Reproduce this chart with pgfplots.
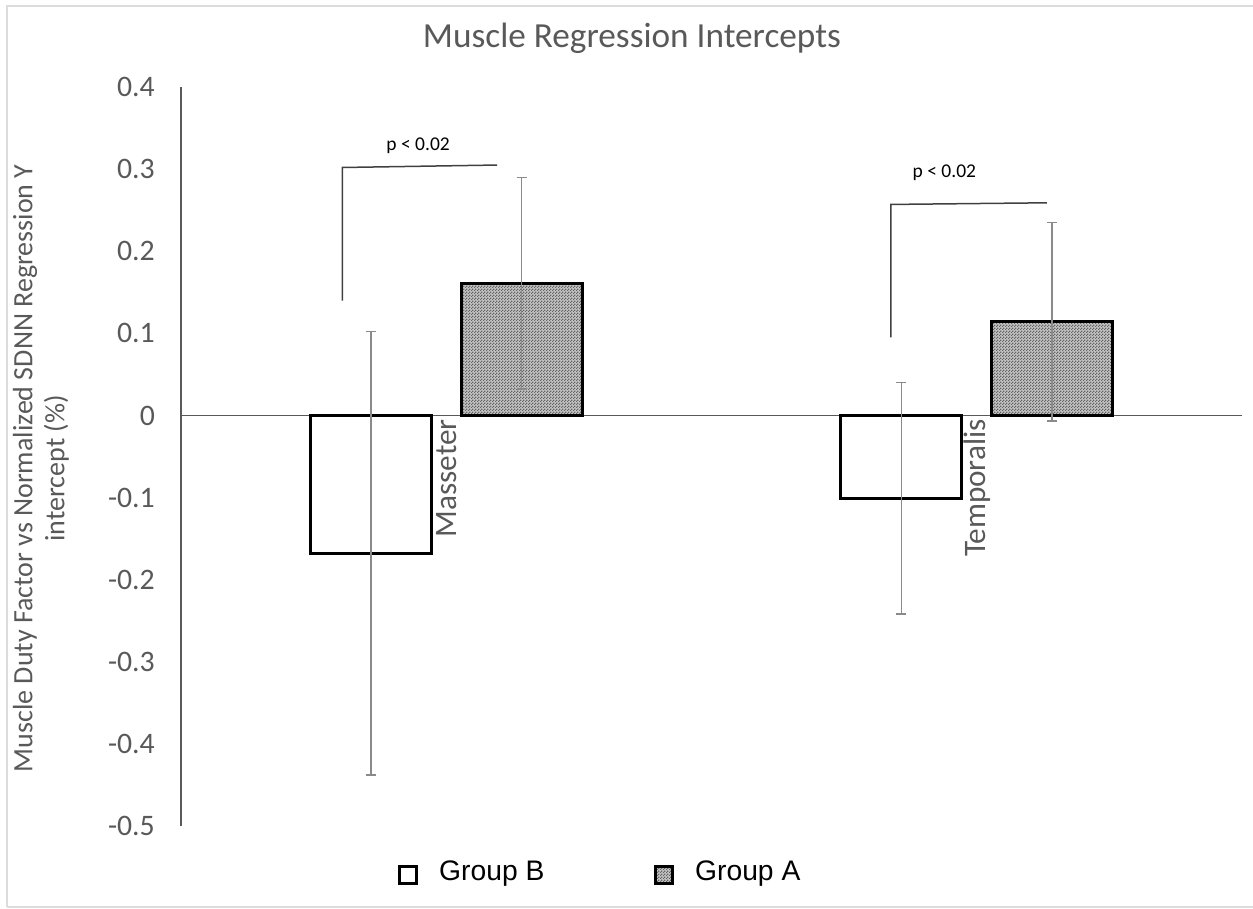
\documentclass[border=0pt]{standalone}
\usepackage{fontspec}
\setmainfont{Carlito}
\newfontfamily\arialfont{Liberation Sans}
\usepackage{pgfplots}
\pgfplotsset{compat=1.18}
\usetikzlibrary{patterns}

\definecolor{txtgray}{HTML}{595959}
\definecolor{errgray}{HTML}{8A8A8A}
\definecolor{barfill}{HTML}{C4C4C4}
\definecolor{dotcol}{HTML}{646464}
\definecolor{framegray}{HTML}{DCDCDC}

% fine checkerboard stipple for Group A bars
\pgfdeclarepatternformonly{finedots}{\pgfqpoint{0pt}{0pt}}{\pgfqpoint{1.2pt}{1.2pt}}{\pgfqpoint{1.2pt}{1.2pt}}{%
  \pgfpathrectangle{\pgfqpoint{0pt}{0pt}}{\pgfqpoint{0.6pt}{0.6pt}}%
  \pgfpathrectangle{\pgfqpoint{0.6pt}{0.6pt}}{\pgfqpoint{0.6pt}{0.6pt}}%
  \pgfusepath{fill}}

\begin{document}
\begin{tikzpicture}
\useasboundingbox (0,0) rectangle (501.2pt,-363.6pt);
% light outer frame
\draw[framegray, line width=0.7pt] (2.8pt,-362.8pt) -- (2.8pt,-2.4pt) -- (501.2pt,-2.4pt);
\draw[framegray, line width=0.7pt] (2.8pt,-362.8pt) -- (501.2pt,-362.8pt);
\begin{axis}[
  at={(72.4pt,-330.4pt)}, anchor=south west,
  scale only axis, width=424.4pt, height=295.6pt,
  clip=false,
  xmin=0.5, xmax=2.5,
  ymin=-0.5, ymax=0.4,
  ytick distance=0.1,
  axis x line=none, axis y line=left,
  y axis line style={-, draw=txtgray, line width=0.8pt},
  ytick style={draw=none},
  yticklabel style={text=txtgray, font=\fontsize{11.9}{14}\selectfont},
  yticklabel shift=4.8pt,
  /pgf/number format/.cd, fixed, precision=1, assume math mode=true, /pgfplots/.cd,
  ylabel={Muscle Duty Factor vs Normalized SDNN Regression Y\\intercept (\%)},
  ylabel style={at={(axis description cs:-0.132,0.484)}, anchor=center, align=center,
    text=txtgray, font=\fontsize{11.2}{12.8}\selectfont, rotate=0},
  ybar, bar width=0.228,
  legend columns=2,
  legend style={at={(axis description cs:0.2045,-0.0636)}, anchor=west, draw=none, fill=none,
    inner xsep=0pt, inner ysep=0pt, font=\arialfont\fontsize{11.3}{13}\selectfont,
    /tikz/every odd column/.append style={column sep=6.6pt},
    /tikz/every even column/.append style={column sep=42pt}},
  legend image code/.code={\draw[#1, draw=black, line width=0.9pt] (0pt,-4.2pt) rectangle (6.8pt,2.6pt);},
]
% zero line
\draw[txtgray, line width=0.7pt] (axis cs:0.5,0) -- (axis cs:2.5,0);

% Group B
\addplot+[bar shift=-0.142, draw=black, fill=white, line width=1.2pt,
  error bars/.cd, y dir=both, y explicit,
  error bar style={errgray, line width=0.6pt},
  error mark options={rotate=90, errgray, mark size=2pt, line width=0.6pt}]
  coordinates {(1,-0.168) +- (0,0.270) (2,-0.101) +- (0,0.141)};
\addlegendentry{Group B}

% Group A
\addplot+[bar shift=0.142, draw=black, fill=barfill, line width=1.2pt,
  postaction={pattern=finedots, pattern color=dotcol},
  error bars/.cd, y dir=both, y explicit,
  error bar style={errgray, line width=0.6pt},
  error mark options={rotate=90, errgray, mark size=2pt, line width=0.6pt}]
  coordinates {(1,0.161) +- (0,0.129) (2,0.114) +- (0,0.121)};
\addlegendentry{Group A}

% category names
\node[rotate=90, anchor=east, text=txtgray, font=\fontsize{12.5}{15}\selectfont, inner sep=0pt]
  at (axis cs:1,-0.004) {Masseter};
\node[rotate=90, anchor=east, text=txtgray, font=\fontsize{12.5}{15}\selectfont, inner sep=0pt]
  at (axis cs:2,-0.004) {Temporalis};

% significance brackets
\draw[black!75, line width=0.6pt] (axis cs:0.804,0.140) -- (axis cs:0.804,0.302) -- (axis cs:1.096,0.305);
\node[font=\fontsize{7.8}{9}\selectfont] at (axis cs:0.947,0.329) {p < 0.02};
\draw[black!75, line width=0.6pt] (axis cs:1.838,0.095) -- (axis cs:1.838,0.257) -- (axis cs:2.132,0.259);
\node[font=\fontsize{7.8}{9}\selectfont] at (axis cs:1.939,0.296) {p < 0.02};

% title
\node[text=txtgray, font=\fontsize{14.1}{17}\selectfont] at (axis description cs:0.425,1.066)
  {Muscle Regression Intercepts};
\end{axis}
\end{tikzpicture}
\end{document}
